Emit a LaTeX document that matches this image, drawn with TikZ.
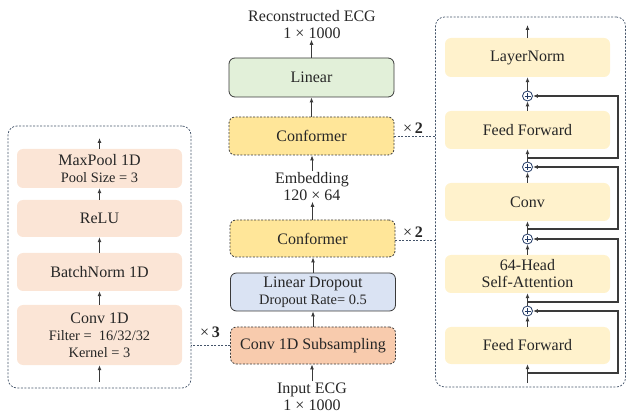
\documentclass[tikz,border=0pt]{standalone}
\usepackage{fontspec}
\setmainfont{Liberation Serif}
\usetikzlibrary{arrows.meta}
\definecolor{peach}{HTML}{FBE5D6}
\definecolor{cream}{HTML}{FFF2CC}
\definecolor{confy}{HTML}{FFE699}
\definecolor{lgreen}{HTML}{E2F0D9}
\definecolor{lblue}{HTML}{DAE3F3}
\definecolor{orng}{HTML}{F8CBAD}
\definecolor{panelc}{HTML}{44546A}
\definecolor{txt}{HTML}{262626}
\definecolor{edge}{HTML}{3A3A3A}
\definecolor{navy}{HTML}{203864}
\newcommand\smtxt{\fontsize{14.4}{17}\selectfont}
\begin{document}
\begin{tikzpicture}[x=1pt,y=-1pt,
 every node/.style={text=txt, font=\fontsize{16}{17}\selectfont},
 box/.style={rectangle, rounded corners=6pt, minimum width=165pt, inner sep=0pt, align=center},
 softbox/.style={box, fill=#1, draw=none},
 mainbox/.style={box, fill=#1, draw=edge, line width=0.8pt},
 dbox/.style={box, fill=#1, draw=edge, line width=0.8pt, dash pattern=on 2pt off 1.5pt},
 panel/.style={rectangle, rounded corners=9pt, draw=panelc, line width=0.7pt, dash pattern=on 2pt off 1.5pt, inner sep=0pt},
 arr/.style={-{Latex[length=5pt,width=4pt]}, line width=0.9pt, draw=edge},
 res/.style={-{Latex[length=5pt,width=4pt]}, line width=1.1pt, draw=edge},
 link/.style={draw=panelc, line width=0.7pt, dash pattern=on 2pt off 1.5pt},
 lbl/.style={align=center, inner sep=1pt},
 oplus/.style={circle, draw=navy, fill=white, line width=0.8pt, minimum size=10pt, inner sep=0pt,
   path picture={\draw[navy, line width=0.6pt]
     ([xshift=-3pt]path picture bounding box.center) -- ([xshift=3pt]path picture bounding box.center)
     ([yshift=-3pt]path picture bounding box.center) -- ([yshift=3pt]path picture bounding box.center);}},
]
\useasboundingbox (0,0) rectangle (627,414);

% panels
\node[panel, minimum width=183pt, minimum height=262pt] (lpanel) at (99.5,257) {};
\node[panel, minimum width=190pt, minimum height=370pt] (rpanel) at (530.5,202) {};

% left panel
\node[softbox=peach, minimum height=39pt] (maxpool) at (99.5,168.5) {MaxPool 1D\\{\smtxt Pool Size = 3}};
\node[softbox=peach, minimum height=37pt] (relu) at (99.5,218.5) {ReLU};
\node[softbox=peach, minimum height=38pt] (bn) at (99.5,272) {BatchNorm 1D};
\node[softbox=peach, minimum height=60pt] (conv) at (99.5,335) {Conv 1D\\{\smtxt Filter =\ \ 16/32/32}\\{\smtxt Kernel = 3}};
\coordinate (lt) at (99.5,138);
\coordinate (lb) at (99.5,382);
\draw[arr] (maxpool.north) -- (lt);
\draw[arr] (relu.north) -- (maxpool.south);
\draw[arr] (bn.north) -- (relu.south);
\draw[arr] (conv.north) -- (bn.south);
\draw[arr] (lb) -- (conv.south);

% centre column
\node[lbl] (recon) at (312,24.5) {Reconstructed ECG\\1 × 1000};
\node[mainbox=lgreen, minimum height=39pt] (linear) at (311.5,77.5) {Linear};
\node[dbox=confy, minimum height=38pt] (conf2) at (311.5,136) {Conformer};
\node[lbl] (emb) at (312,186.5) {Embedding\\120 × 64};
\node[dbox=confy, minimum height=37pt] (conf1) at (312.5,238.5) {Conformer};
\node[mainbox=lblue, minimum height=38pt] (drop) at (313,292) {Linear Dropout\\{\smtxt Dropout Rate= 0.5}};
\node[dbox=orng, minimum height=37pt] (sub) at (313,345.5) {Conv 1D Subsampling};
\node[lbl] (inp) at (312,396.5) {Input ECG\\1 × 1000};

\draw[arr] (inp.north) -- (inp.north |- sub.south);
\draw[arr] (sub.north) -- (sub.north |- drop.south);
\draw[arr] (drop.north) -- (drop.north |- conf1.south);
\draw[arr] (conf1.north) -- (conf1.north |- emb.south);
\draw[arr] (emb.north) -- (emb.north |- conf2.south);
\draw[arr] (conf2.north) -- (conf2.north |- linear.south);
\draw[arr] (linear.north) -- (linear.north |- recon.south);

% repeat links
\node (x2a) at (413,128) {×\,\textbf{2}};
\node (x2b) at (413,232) {×\,\textbf{2}};
\node (x3) at (210,332) {×\,\textbf{3}};
\draw[link] (conf2.east) -- (conf2.east -| rpanel.west);
\draw[link] ([yshift=-1.5pt]conf1.east) -- ([yshift=-1.5pt]conf1.east -| rpanel.west);
\draw[link] (sub.west) -- (sub.west -| lpanel.east);

% right panel
\node[softbox=cream, minimum height=39pt] (ln) at (527.5,57.5) {LayerNorm};
\node[softbox=cream, minimum height=38pt] (ff1) at (527.5,130) {Feed Forward};
\node[softbox=cream, minimum height=38pt] (cv) at (527.5,202) {Conv};
\node[softbox=cream, minimum height=38pt] (sa) at (527.5,274) {64-Head\\Self-Attention};
\node[softbox=cream, minimum height=37pt] (ff2) at (527.5,345.5) {Feed Forward};
\node[oplus] (p1) at (527.5,96) {};
\node[oplus] (p2) at (527.5,167) {};
\node[oplus] (p3) at (527.5,239) {};
\node[oplus] (p4) at (527.5,311) {};
\coordinate (rt) at (527.5,25);
\coordinate (rb) at (527.5,383);
\coordinate (b1) at (527.5,158);
\coordinate (b2) at (527.5,229);
\coordinate (b3) at (527.5,302);
\coordinate (b4) at (527.5,373);
\coordinate (rx) at (618,0);

\draw[arr] (ln.north) -- (rt);
\draw[arr] (p1.north) -- (ln.south);
\draw[arr] (ff1.north) -- (p1.south);
\draw[arr] (p2.north) -- (ff1.south);
\draw[arr] (cv.north) -- (p2.south);
\draw[arr] (p3.north) -- (cv.south);
\draw[arr] (sa.north) -- (p3.south);
\draw[arr] (p4.north) -- (sa.south);
\draw[arr] (ff2.north) -- (p4.south);
\draw[arr] (rb) -- (ff2.south);

\draw[res] (b1) -- (b1 -| rx) -- (rx |- p1) -- (p1.east);
\draw[res] (b2) -- (b2 -| rx) -- (rx |- p2) -- (p2.east);
\draw[res] (b3) -- (b3 -| rx) -- (rx |- p3) -- (p3.east);
\draw[res] (b4) -- (b4 -| rx) -- (rx |- p4) -- (p4.east);
\end{tikzpicture}
\end{document}
